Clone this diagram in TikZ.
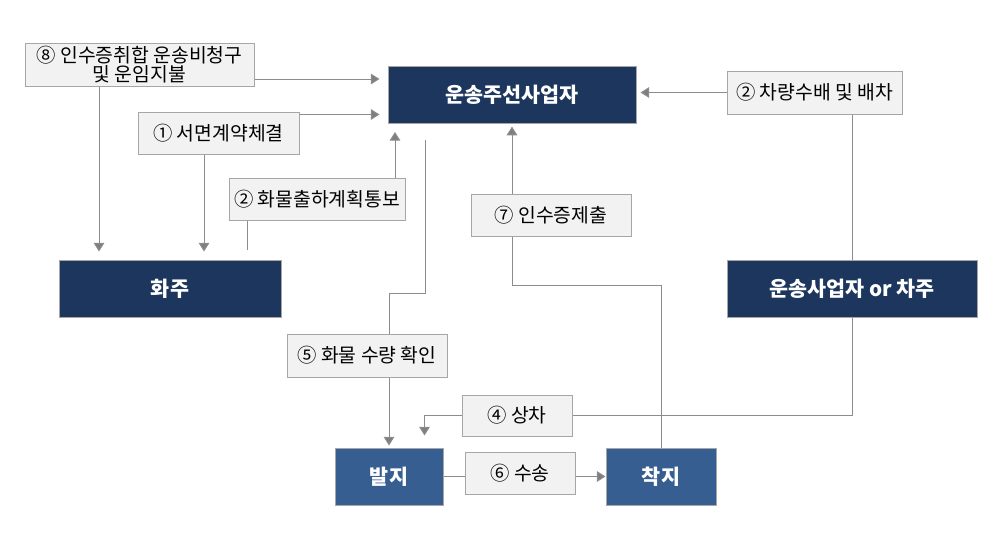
\documentclass[tikz,border=0pt]{standalone}
\usepackage{fontspec}
\setmainfont{Noto Sans CJK KR}
\usepackage{xcolor}
\usepackage{tikz}
\usetikzlibrary{positioning,calc,arrows.meta}

\definecolor{navy}{HTML}{1C365E}
\definecolor{midblue}{HTML}{375E91}
\definecolor{lblfill}{HTML}{F2F2F2}
\definecolor{edge}{HTML}{A6A6A6}
\definecolor{wire}{HTML}{8C8C8C}
\definecolor{tip}{HTML}{7F7F7F}

\begin{document}
\begin{tikzpicture}[x=0.75pt, y=-0.75pt,
    party/.style={draw=edge, line width=0.75pt, fill=navy, text=white, font=\bfseries\fontsize{15.5}{18}\selectfont, inner sep=0pt, minimum height=42.75pt},
    place/.style={party, fill=midblue},
    lbl/.style={draw=edge, line width=0.75pt, fill=lblfill, text=black, font=\fontsize{14.5}{16}\selectfont, inner sep=0pt, align=center, minimum height=31.5pt},
    wireline/.style={draw=wire, line width=0.75pt},
    arr/.style={wireline, -{Triangle[width=8pt, length=6.5pt, fill=tip]}}]
    \useasboundingbox (0,0) rectangle (1005,539);

    % Parties
    \node[party, minimum width=186pt] (jusun) at (512,95) {운송주선사업자};
    \node[party, minimum width=166.5pt] (hwaju) at (170,288.5) {화주};
    \node[party, minimum width=187.5pt] (unsong) at (852,288.5) {운송사업자 or 차주};
    \node[place, minimum width=81pt] (balji) at (389,476.5) {발지};
    \node[place, minimum width=82.5pt] (chakji) at (661,476.5) {착지};

    % Labels
    \node[lbl, minimum width=171.75pt, minimum height=32.25pt, font=\fontsize{14.5}{13}\selectfont] (l8) at (139.5,64.5) {⑧ 인수증취합 운송비청구\\및 운임지불};
    \node[lbl, minimum width=120.75pt] (l1) at (218.5,133) {① 서면계약체결};
    \node[lbl, minimum width=132pt] (l2a) at (317,199) {② 화물출하계획통보};
    \node[lbl, minimum width=120pt] (l7) at (551,215) {⑦ 인수증제출};
    \node[lbl, minimum width=131.25pt, minimum height=32.25pt] (l2b) at (814.5,92.5) {② 차량수배 및 배차};
    \node[lbl, minimum width=120pt, minimum height=32.25pt] (l5) at (367,355.5) {⑤ 화물 수량 확인};
    \node[lbl, minimum width=82.5pt, minimum height=30.75pt] (l4) at (517,415.5) {④ 상차};
    \node[lbl, minimum width=82.5pt] (l6) at (520,473) {⑥ 수송};

    % Free ends
    \coordinate (a8) at ($(l8.east)+(0,14.5)$);
    \coordinate (d8) at ($(l8.south)+(-40.5,0)$);
    \coordinate (a1) at ($(l1.north east)+(0,3)$);
    \coordinate (d1) at ($(l1.south)+(-14.5,0)$);
    \coordinate (u2) at ($(l2a.south)+(-70,0)$);
    \coordinate (t2) at ($(l2a.north)+(78,0)$);
    \coordinate (j5) at ($(jusun.south)+(-87,16)$);
    \coordinate (k5) at ($(j5)+(0,153)$);
    \coordinate (b4) at ($(balji.north east)+(-19,-12)$);

    % Contracts and billing
    \draw[arr, shorten >=6pt] (a8) -- (a8 -| jusun.west);
    \draw[arr, shorten >=6pt] (d8) -- (d8 |- hwaju.north);
    \draw[arr, shorten >=6pt] (a1) -- (a1 -| jusun.west);
    \draw[arr, shorten >=6pt] (d1) -- (d1 |- hwaju.north);
    \draw[wireline, shorten <=7.5pt] (u2 |- hwaju.north) -- (u2);
    \draw[arr, shorten >=6pt] (t2) -- (t2 |- jusun.south);

    % Dispatch
    \draw[arr, shorten >=3pt] (l2b.west) -- (l2b.west -| jusun.east);
    \draw[wireline] (unsong.north |- l2b.south) -- (unsong.north);
    \draw[wireline] (unsong.south) |- (l4.east);
    \draw[arr] (l4.west) -| (b4);

    % Loading and transport
    \draw[wireline] (j5) -- (k5) -| (balji.north |- l5.north);
    \draw[arr, shorten >=1.5pt] (balji.north |- l5.south) -- (balji.north);
    \draw[wireline] (balji.east) -- (balji.east -| l6.west);
    \draw[arr] (l6.east |- balji.east) -- (chakji.west);

    % Receipt
    \draw[wireline] (chakji.north) -- ++(0,-162) -| (jusun.south |- l7.south);
    \draw[arr, shorten >=2pt] (l7.north -| jusun.south) -- (jusun.south);
\end{tikzpicture}
\end{document}
